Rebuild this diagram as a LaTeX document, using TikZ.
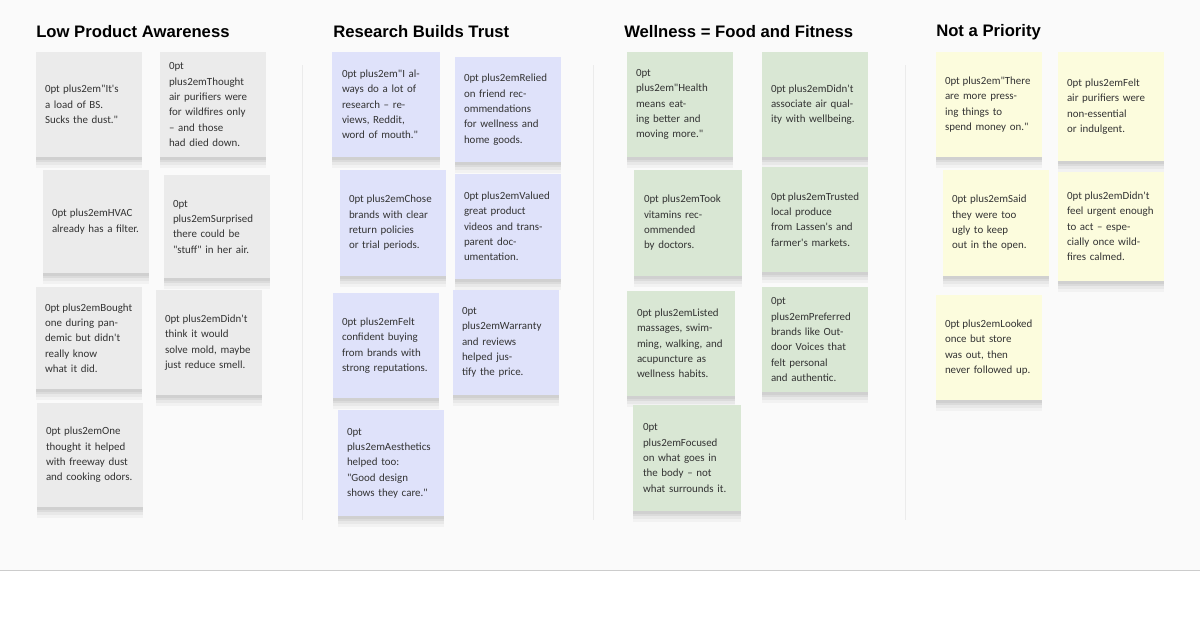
\documentclass[tikz,border=0pt]{standalone}
\usepackage{fontspec}
\setmainfont{Liberation Sans}
\newfontfamily\notefont{Carlito}
\definecolor{bgc}{HTML}{FAFAFA}
\definecolor{gry}{HTML}{EBEBEB}
\definecolor{blu}{HTML}{DFE2FA}
\definecolor{grn}{HTML}{D9E7D4}
\definecolor{ylw}{HTML}{FCFCDD}
\definecolor{txt}{HTML}{333333}
\tikzset{
  stickynote/.style={inner sep=0pt, text width=66pt, align=center,
    font=\notefont\fontsize{8.2}{11.5}\selectfont\lefthyphenmin=64, text=txt,
    preaction={fill=black, opacity=0.05, transform canvas={yshift=-2pt}},
    preaction={fill=black, opacity=0.05, transform canvas={yshift=-4pt}},
    preaction={fill=black, opacity=0.04, transform canvas={yshift=-6pt}},
    preaction={fill=black, opacity=0.03, transform canvas={yshift=-8pt}}},
  header/.style={anchor=west, font=\bfseries\fontsize{12.5}{14}\selectfont, text=black, inner sep=0pt},
  divider/.style={draw=black!8, line width=0.6pt}
}
\newcommand{\mynote}[7]{%
  \node[stickynote, fill=#6, minimum width={(#4-#2)*0.75pt}, minimum height={(#5-#3)*0.75pt}] (#1) at ({(#2+#4)/2},{(#3+#5)/2}) {#7};}
\begin{document}
\begin{tikzpicture}[x=0.75pt,y=-0.75pt]
\useasboundingbox (0,0) rectangle (1200,637);
\fill[bgc] (0,0) rectangle (1200,570);
\draw[black!20, line width=0.6pt] (0,570.5) -- (1200,570.5);
\coordinate (d1a) at (302,65); \coordinate (d1b) at (302,520);
\coordinate (d2a) at (593,65); \coordinate (d2b) at (593,520);
\coordinate (d3a) at (905,65); \coordinate (d3b) at (905,520);
\draw[divider] (d1a) -- (d1b); \draw[divider] (d2a) -- (d2b); \draw[divider] (d3a) -- (d3b);
\node[header] (h1) at (36,32) {Low Product Awareness};
\node[header] (h2) at (333,32) {Research Builds Trust};
\node[header] (h3) at (624,32) {Wellness = Food and Fitness};
\node[header] (h4) at (936,32) {Not a Priority};
% col 1
\mynote{a1}{36}{52}{142}{157}{gry}{"It's a load of BS. Sucks the dust."}
\mynote{a2}{160}{52}{266}{157}{gry}{Thought air purifiers were for wildfires only – and those had died down.}
\mynote{a3}{43}{170}{149}{273}{gry}{HVAC already has a filter.}
\mynote{a4}{164}{175}{270}{278}{gry}{Surprised there could be "stuff" in her air.}
\mynote{a5}{36}{287}{142}{389}{gry}{Bought one during pandemic but didn't really know what it did.}
\mynote{a6}{156}{290}{262}{395}{gry}{Didn't think it would solve mold, maybe just reduce smell.}
\mynote{a7}{37}{403}{143}{507}{gry}{One thought it helped with freeway dust and cooking odors.}
% col 2
\mynote{b1}{332}{52}{440}{157}{blu}{"I always do a lot of research – reviews, Reddit, word of mouth."}
\mynote{b2}{455}{57}{561}{162}{blu}{Relied on friend recommendations for wellness and home goods.}
\mynote{b3}{340}{170}{446}{276}{blu}{Chose brands with clear return policies or trial periods.}
\mynote{b4}{455}{174}{561}{279}{blu}{Valued great product videos and transparent documentation.}
\mynote{b5}{333}{293}{439}{398}{blu}{Felt confident buying from brands with strong reputations.}
\mynote{b6}{453}{290}{559}{395}{blu}{Warranty and reviews helped justify the price.}
\mynote{b7}{338}{410}{444}{516}{blu}{Aesthetics helped too: "Good design shows they care."}
% col 3
\mynote{c1}{627}{52}{733}{157}{grn}{"Health means eating better and moving more."}
\mynote{c2}{762}{52}{868}{157}{grn}{Didn't associate air quality with wellbeing.}
\mynote{c3}{634}{170}{742}{276}{grn}{Took vitamins recommended by doctors.}
\mynote{c4}{762}{167}{868}{272}{grn}{Trusted local produce from Lassen's and farmer's markets.}
\mynote{c5}{627}{291}{735}{396}{grn}{Listed massages, swimming, walking, and acupuncture as wellness habits.}
\mynote{c6}{762}{287}{868}{392}{grn}{Preferred brands like Outdoor Voices that felt personal and authentic.}
\mynote{c7}{633}{405}{741}{511}{grn}{Focused on what goes in the body – not what surrounds it.}
% col 4
\mynote{e1}{936}{52}{1042}{157}{ylw}{"There are more pressing things to spend money on."}
\mynote{e2}{1058}{52}{1164}{161}{ylw}{Felt air purifiers were non-essential or indulgent.}
\mynote{e3}{943}{170}{1049}{276}{ylw}{Said they were too ugly to keep out in the open.}
\mynote{e4}{1058}{172}{1164}{281}{ylw}{Didn't feel urgent enough to act – especially once wildfires calmed.}
\mynote{e5}{936}{295}{1042}{400}{ylw}{Looked once but store was out, then never followed up.}
\end{tikzpicture}
\end{document}
